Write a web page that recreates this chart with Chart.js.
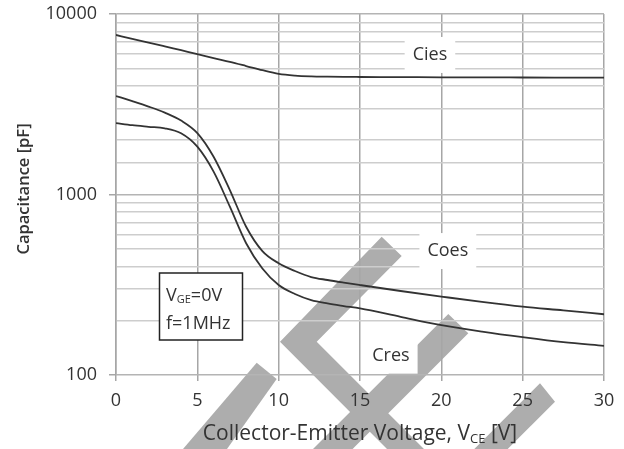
<!DOCTYPE html>
<html>
<head>
<meta charset="utf-8">
<script src="https://cdn.jsdelivr.net/npm/chart.js@4.4.1/dist/chart.umd.min.js"></script>
<style>
  html, body { margin: 0; padding: 0; background: #fff; }
  #wrap { width: 624px; height: 449px; position: relative; }
</style>
</head>
<body>
<div id="wrap"><canvas id="capChart" width="624" height="449"></canvas></div>
<script>
// collector-emitter voltage [V]
const vce = [0, 1, 2, 3, 4, 5, 6, 7, 8, 9, 10, 11, 12, 13, 14, 15, 17.5, 20, 22.5, 25, 27.5, 30];
// capacitances [pF]
const cies = [7650, 7280, 6950, 6620, 6300, 6000, 5700, 5430, 5150, 4880, 4660, 4560, 4515, 4495, 4482, 4478, 4470, 4460, 4455, 4448, 4442, 4436];
const coes = [3513, 3290, 3070, 2840, 2570, 2190, 1620, 1059, 663, 486, 416, 377, 349, 336, 325, 315, 292, 272, 254, 239, 228, 217];
const cres = [2489, 2420, 2371, 2326, 2183, 1840, 1338, 856, 537, 389, 315, 281, 260, 249, 241, 234, 210, 189, 174, 162, 152, 145];

const xTicks = [0, 5, 10, 15, 20, 25, 30];
const yMajor = [100, 1000, 10000];

// curve labels: [text, vce, pF]
const curveLabels = [
    ['Cies', 19.3, 5930],
    ['Coes', 20.4, 486],
    ['Cres', 16.9, 128]
];

const FONT = "'Open Sans', 'DejaVu Sans', sans-serif";

function pts(ys) {
    return vce.map((x, i) => ({ x: x, y: ys[i] }));
}

function isDecade(v) {
    return yMajor.indexOf(v) !== -1;
}

// grey watermark chevrons behind the plot
const watermark = {
    id: 'watermark',
    beforeDraw(chart) {
        const c = chart.ctx;
        c.save();
        c.fillStyle = '#adadad';
        const shapes = [
            [[280, 341.7], [381.7, 236.7], [401.7, 256], [316.7, 341.7], [424, 449], [387, 449]],
            [[256.7, 362.7], [276.7, 379], [227, 449], [183, 449]],
            [[448.3, 314], [468.3, 333.3], [352.6, 449], [313, 449]],
            [[540, 383.3], [555, 401.7], [507.7, 449], [474.3, 449]]
        ];
        shapes.forEach(s => {
            c.beginPath();
            c.moveTo(s[0][0], s[0][1]);
            for (let i = 1; i < s.length; i++) c.lineTo(s[i][0], s[i][1]);
            c.closePath();
            c.fill();
        });
        c.restore();
    }
};

// labels, condition box and axis titles
const decorations = {
    id: 'decorations',
    afterDraw(chart) {
        const c = chart.ctx;
        const xs = chart.scales.x, ys = chart.scales.y;
        const area = chart.chartArea;
        c.save();

        c.font = '18px ' + FONT;
        c.textAlign = 'center';
        c.textBaseline = 'middle';
        curveLabels.forEach(l => {
            const px = xs.getPixelForValue(l[1]);
            const py = ys.getPixelForValue(l[2]);
            const w = c.measureText(l[0]).width + 16;
            c.fillStyle = '#fff';
            c.fillRect(px - w / 2, py - 18, w, 36);
            c.fillStyle = '#333';
            c.fillText(l[0], px, py);
        });

        // condition box
        const bx = 159.5, by = 273, bw = 83, bh = 67;
        c.fillStyle = '#fff';
        c.fillRect(bx, by, bw, bh);
        c.strokeStyle = '#222';
        c.lineWidth = 1.5;
        c.strokeRect(bx, by, bw, bh);
        c.fillStyle = '#333';
        c.textAlign = 'left';
        c.textBaseline = 'alphabetic';
        c.font = '18px ' + FONT;
        let tx = 166;
        c.fillText('V', tx, 301);
        tx += c.measureText('V').width;
        c.font = '11px ' + FONT;
        c.fillText('GE', tx, 303);
        tx += c.measureText('GE').width;
        c.font = '18px ' + FONT;
        c.fillText('=0V', tx, 301);
        c.fillText('f=1MHz', 166, 329);

        // x title with subscript
        const parts = [
            ['Collector-Emitter Voltage, V', '21px ' + FONT, 0],
            ['CE', '13px ' + FONT, 3],
            [' [V]', '21px ' + FONT, 0]
        ];
        let total = 0;
        parts.forEach(p => { c.font = p[1]; total += c.measureText(p[0]).width; });
        let x0 = (area.left + area.right) / 2 - total / 2;
        parts.forEach(p => {
            c.font = p[1];
            c.fillText(p[0], x0, 440 + p[2]);
            x0 += c.measureText(p[0]).width;
        });

        // y title
        c.translate(24, 189);
        c.rotate(-Math.PI / 2);
        c.textAlign = 'center';
        c.textBaseline = 'middle';
        c.font = '600 16.5px ' + FONT;
        c.fillText('Capacitance [pF]', 0, 0);
        c.restore();
    }
};

function series(data) {
    return {
        data: pts(data),
        showLine: true,
        borderColor: '#333',
        borderWidth: 1.8,
        pointRadius: 0,
        cubicInterpolationMode: 'monotone',
        fill: false
    };
}

new Chart(document.getElementById('capChart').getContext('2d'), {
    type: 'scatter',
    data: {
        datasets: [series(cies), series(coes), series(cres)]
    },
    options: {
        responsive: false,
        animation: false,
        layout: { padding: { left: 0, right: 20, top: 14, bottom: 0 } },
        plugins: { legend: { display: false }, tooltip: { enabled: false } },
        scales: {
            x: {
                type: 'linear',
                min: 0,
                max: 30,
                afterBuildTicks(scale) { scale.ticks = xTicks.map(v => ({ value: v })); },
                afterFit(scale) { scale.height = 74; },
                grid: { color: '#a6a6a6', lineWidth: 1.5, tickLength: 6, tickColor: '#a6a6a6' },
                border: { display: false },
                ticks: {
                    padding: 9,
                    color: '#333',
                    font: { family: FONT, size: 18 }
                }
            },
            y: {
                type: 'logarithmic',
                min: 100,
                max: 10000,
                afterFit(scale) { scale.width = 116; },
                grid: {
                    color: ctx => isDecade(ctx.tick.value) ? '#b4b4b4' : '#cdcdcd',
                    lineWidth: 1.5,
                    tickLength: 7,
                    tickColor: ctx => isDecade(ctx.tick.value) ? '#a6a6a6' : 'rgba(0,0,0,0)'
                },
                border: { display: true, color: '#a6a6a6', width: 1.5 },
                ticks: {
                    autoSkip: false,
                    padding: 12,
                    color: '#333',
                    font: { family: FONT, size: 18, lineHeight: 0.1 },
                    callback: v => isDecade(v) ? String(v) : ''
                }
            }
        }
    },
    plugins: [watermark, decorations]
});
</script>
</body>
</html>
